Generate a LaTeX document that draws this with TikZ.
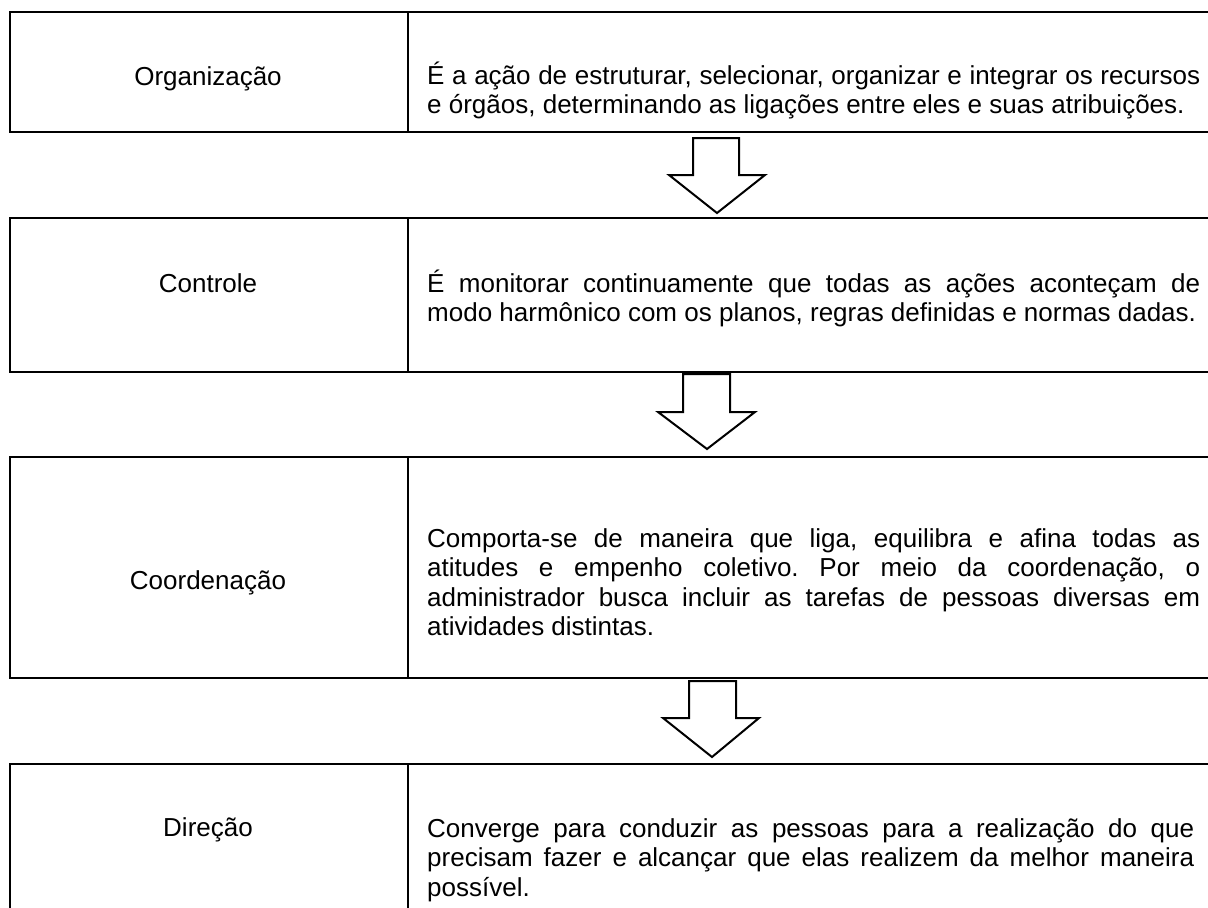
\documentclass[tikz,border=0pt]{standalone}
\usepackage{fontspec}
\setmainfont{Liberation Sans}
\frenchspacing
\begin{document}
\begin{tikzpicture}[x=1pt,y=-1pt,
  rowbox/.style={draw, line width=2pt, inner sep=0pt, anchor=north west, minimum width=1240pt},
  divider/.style={line width=2pt},
  lab/.style={font=\fontsize{26}{29.5}\selectfont, anchor=base, inner sep=0pt},
  desc/.style={font=\fontsize{26}{29.5}\selectfont\frenchspacing, anchor=base west, inner sep=0pt, text width=773pt, align=justify},
  blockarrow/.style={draw, line width=2pt, fill=white, line join=miter}]
\useasboundingbox (0,0) rectangle (1208,908);
\clip (0,0) rectangle (1208,908);
\fill[white] (0,0) rectangle (1208,908);
% rows
\node[rowbox, minimum height=120pt] (row1) at (9,11) {};
\node[rowbox, minimum height=154pt] (row2) at (9,217) {};
\node[rowbox, minimum height=221pt] (row3) at (9,456) {};
\node[rowbox, minimum height=200pt] (row4) at (9,763) {};
\foreach \r in {row1,row2,row3,row4}
  \draw[divider] ([xshift=399pt]\r.north west) -- ([xshift=399pt]\r.south west);
% labels
\node[lab] (lab1) at (208,85) {Organização};
\node[lab] (lab2) at (208,292) {Controle};
\node[lab] (lab3) at (208,589) {Coordenação};
\node[lab] (lab4) at (208,836) {Direção};
% descriptions
\node[desc] (txt1) at (427,84) {É a ação de estruturar, selecionar, organizar e integrar os recursos\linebreak e órgãos, determinando as ligações entre eles e suas atribuições.};
\node[desc] (txt2) at (427,292) {É monitorar continuamente que todas as ações aconteçam de\linebreak modo harmônico com os planos, regras definidas e normas dadas.};
\node[desc] (txt3) at (427,547) {Comporta-se de maneira que liga, equilibra e afina todas as\linebreak atitudes e empenho coletivo. Por meio da coordenação, o\linebreak administrador busca incluir as tarefas de pessoas diversas em\linebreak atividades distintas.};
\node[desc, text width=767pt] (txt4) at (427,837) {Converge para conduzir as pessoas para a realização do que\linebreak precisam fazer e alcançar que elas realizem da melhor maneira\linebreak possível.};
% block arrows
\draw[blockarrow] (693,138) -- (739,138) -- (739,175) -- (765,175) -- (717,213) -- (669,175) -- (693,175) -- cycle;
\draw[blockarrow] (683,374) -- (730,374) -- (730,412) -- (755,412) -- (707,449) -- (658,412) -- (683,412) -- cycle;
\draw[blockarrow] (689,681) -- (736,681) -- (736,718) -- (759,718) -- (712,757) -- (663,718) -- (689,718) -- cycle;
\end{tikzpicture}
\end{document}
